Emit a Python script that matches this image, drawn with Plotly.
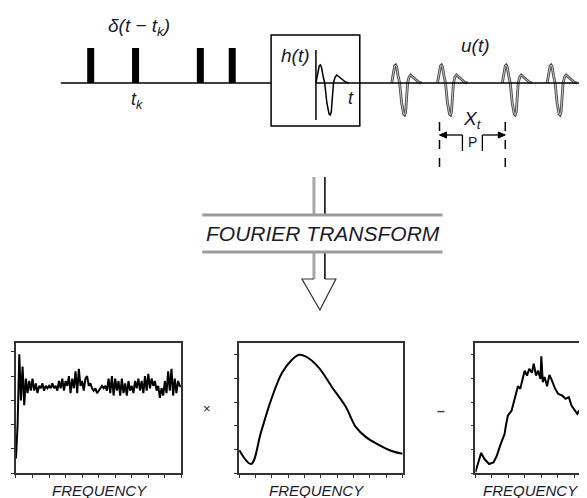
import plotly.graph_objects as go

# ---------------- data ----------------
# impulse train δ(t - t_k): impulse times (diagram time units)
pulse_times = [91, 136, 201, 233]
# wavelet h(t) template (time offset, amplitude; + = up)
wavelet_t = [0, 1.5, 3, 4, 5, 6.5, 8, 10, 12, 13, 14, 16, 17.5, 19, 21, 24, 27, 30]
wavelet_a = [0, 10, 17, 18, 16, 7, 0, -20, -31, -32, -29, 0, 6, 8, 6, 3, 1, 0]
# onset times of the wavelets in u(t)
u_onsets = [393, 439, 504, 549]
h_onset = 317
period_marks = [441, 507]

# spectra (frequency index -> amplitude)
spec_delta = [0.6, 2.0, 4.9, 3.0, 4.4, 2.8, 3.9, 3.3, 3.8, 3.4,
              3.9, 3.4, 3.7, 3.3, 3.6, 3.5, 3.7, 3.4, 3.6, 3.5,
              3.6, 3.5, 3.7, 3.5, 3.6, 3.4, 3.8, 3.5, 3.9, 3.4,
              3.8, 3.6, 4.0, 3.3, 3.9, 3.5, 4.2, 3.3, 4.3, 3.6,
              3.8, 3.4, 3.9, 4.0, 3.6, 3.7, 3.5, 3.4, 3.5, 3.3,
              3.4, 3.5, 3.6, 3.5, 3.6, 3.4, 3.9, 3.3, 4.0, 3.2,
              3.9, 3.4, 3.8, 3.2, 3.9, 3.3, 3.7, 3.2, 3.8, 3.4,
              3.6, 3.3, 3.8, 3.5, 3.9, 3.4, 3.8, 3.3, 4.0, 3.4,
              4.1, 3.5, 3.9, 3.6, 3.8, 3.4, 3.6, 3.1, 3.5, 3.2,
              3.8, 3.3, 4.2, 3.4, 4.3, 3.2, 3.9, 3.3, 3.8, 3.6, 3.57]

spec_h_f = [0, 7.3, 13.4, 19.5, 26.2, 32.3, 36.6, 40.9, 48.8, 56.7,
            65.2, 71.3, 77.4, 85.4, 93.3, 100]
spec_h_a = [0.97, 0.38, 1.74, 3.09, 4.24, 4.79, 5.0, 4.92, 4.45, 3.64,
            2.80, 1.95, 1.53, 1.19, 0.93, 0.81]

spec_u_f = [0, 1.8, 3.5, 5.5, 8.3, 11, 13, 15, 17.7, 18.5, 19.7, 22, 24.2, 25.8,
            27.2, 28.3, 29.9, 31.3, 32.7, 34.3, 35.4, 36.8, 38, 39.5, 40, 40.9,
            42, 43.5, 44.9, 46.5, 48.2, 50.2, 52.6, 54.7, 56.7, 58.3, 59.8,
            61.8, 62.8, 64.4, 66.5]
spec_u_a = [0.03, 0.47, 0.85, 0.59, 0.38, 0.45, 0.73, 1.16, 1.65, 2.0, 2.43, 2.64,
            3.2, 3.67, 3.56, 3.84, 4.33, 4.12, 4.41, 4.24, 4.62, 4.12, 4.33, 3.98,
            4.94, 3.84, 4.06, 3.67, 4.15, 3.91, 3.59, 3.35, 3.28, 3.14, 3.21,
            2.85, 2.71, 2.5, 2.64, 2.36, 2.15]

# ---------------- layout constants ----------------
W, H = 587, 498          # window size
OFF = 8                  # page body margin in which the figure sits
FW, FH = W - OFF, H - OFF
BASE_Y = 83
PULSE_H = 35
ARROW_Y = 135
TXT = "#1a1a2a"
FONT = "Liberation Sans, Arial, sans-serif"


def fx(px):
    return (px - OFF) / FW


def fy(py):
    return 1 - (py - OFF) / FH


fig = go.Figure()

# baseline pieces (through diagram)
fig.add_shape(type="line", x0=61, x1=272, y0=BASE_Y, y1=BASE_Y, xref="x", yref="y",
              line=dict(color="black", width=1.5))
fig.add_shape(type="line", x0=h_onset, x1=W, y0=BASE_Y, y1=BASE_Y, xref="x", yref="y",
              line=dict(color="black", width=1.5))

# impulses
px, py = [], []
for t in pulse_times:
    px += [t, t, None]
    py += [BASE_Y, BASE_Y - PULSE_H, None]
fig.add_trace(go.Scatter(x=px, y=py, mode="lines", line=dict(color="black", width=7),
                         hoverinfo="skip", xaxis="x", yaxis="y"))

# h(t) box
fig.add_shape(type="rect", x0=272, x1=361, y0=35, y1=126, xref="x", yref="y",
              line=dict(color="black", width=1.5))
fig.add_shape(type="line", x0=h_onset, x1=h_onset, y0=50, y1=120, xref="x", yref="y",
              line=dict(color="black", width=1.5))
hx = [h_onset + 1.1 * t for t in wavelet_t]
hy = [BASE_Y - a for a in wavelet_a]
fig.add_trace(go.Scatter(x=hx, y=hy, mode="lines", line=dict(color="black", width=1.5),
                         hoverinfo="skip", xaxis="x", yaxis="y"))

# u(t) wavelets
ux, uy = [], []
for o in u_onsets:
    ux += [o + t for t in wavelet_t] + [None]
    uy += [BASE_Y - a for a in wavelet_a] + [None]
fig.add_trace(go.Scatter(x=ux, y=uy, mode="lines", line=dict(color="#4a4a4a", width=2.8),
                         hoverinfo="skip", xaxis="x", yaxis="y"))
fig.add_trace(go.Scatter(x=ux, y=uy, mode="lines", line=dict(color="#d0d0d0", width=0.9),
                         hoverinfo="skip", xaxis="x", yaxis="y"))

# period markers
for m in period_marks:
    fig.add_shape(type="line", x0=m, x1=m, y0=122, y1=167, xref="x", yref="y",
                  line=dict(color="black", width=1.5, dash="dash"))
for tx in [464, 484]:
    fig.add_shape(type="line", x0=tx, x1=tx, y0=ARROW_Y, y1=151, xref="x", yref="y",
                  line=dict(color="black", width=1.3))
# arrows (shaft + filled head)
a0, a1 = period_marks
fig.add_shape(type="line", x0=a0 + 5, x1=464, y0=ARROW_Y, y1=ARROW_Y, xref="x", yref="y",
              line=dict(color="black", width=1.3))
fig.add_shape(type="line", x0=484, x1=a1 - 5, y0=ARROW_Y, y1=ARROW_Y, xref="x", yref="y",
              line=dict(color="black", width=1.3))
fig.add_shape(type="path", xref="x", yref="y", fillcolor="black",
              line=dict(color="black", width=1),
              path=f"M {a0} {ARROW_Y} L {a0 + 7} {ARROW_Y - 3} L {a0 + 7} {ARROW_Y + 3} Z")
fig.add_shape(type="path", xref="x", yref="y", fillcolor="black",
              line=dict(color="black", width=1),
              path=f"M {a1} {ARROW_Y} L {a1 - 7} {ARROW_Y - 3} L {a1 - 7} {ARROW_Y + 3} Z")

# Fourier transform arrow
for y0, y1 in [(177, 215), (252, 279)]:
    fig.add_shape(type="line", x0=315, x1=315, y0=y0, y1=y1, xref="x", yref="y",
                  line=dict(color="#a8a8a8", width=3))
    fig.add_shape(type="line", x0=326, x1=326, y0=y0, y1=y1, xref="x", yref="y",
                  line=dict(color="black", width=1.5))
for yy in [215, 252]:
    fig.add_shape(type="line", x0=203, x1=444, y0=yy, y1=yy, xref="x", yref="y",
                  line=dict(color="#9c9c9c", width=3))
fig.add_shape(type="path", path="M 315 279 L 303 279 L 321 310 L 337 279 L 326 279",
              xref="x", yref="y", line=dict(color="#333", width=1.2))


# text
def label(x, y, text, size, color=TXT):
    fig.add_annotation(x=x, y=y, xref="x", yref="y", text=text, showarrow=False,
                       font=dict(family=FONT, size=size, color=color),
                       xanchor="center", yanchor="middle")


label(139, 27, "<i>δ(t − t<sub>k</sub>)</i>", 19)
label(137, 100, "<i>t<sub>k</sub></i>", 18)
label(296, 55, "<i>h(t)</i>", 19)
label(352, 98, "<i>t</i>", 18)
label(477, 45, "<i>u(t)</i>", 19)
label(474, 120, "<i>X<sub>t</sub></i>", 19)
label(474, 142, "P", 14)
label(324, 233, "<i>FOURIER TRANSFORM</i>", 21)
label(208, 408, "×", 13)
label(442, 411, "<b>–</b>", 14, "#444")
for cx in [100, 318, 532]:
    label(cx, 490, "<i>FREQUENCY</i>", 15)

# spectra
fig.add_trace(go.Scatter(y=spec_delta, x0=0, dx=1, mode="lines",
                         line=dict(color="black", width=2), xaxis="x2", yaxis="y2",
                         hoverinfo="skip"))
fig.add_trace(go.Scatter(x=spec_h_f, y=spec_h_a, mode="lines", line_shape="spline",
                         line=dict(color="black", width=2), xaxis="x3", yaxis="y3",
                         hoverinfo="skip"))
fig.add_trace(go.Scatter(x=spec_u_f, y=spec_u_a, mode="lines",
                         line=dict(color="black", width=2), xaxis="x4", yaxis="y4",
                         hoverinfo="skip"))

ax_style = dict(showline=True, mirror=True, linecolor="#333", linewidth=1.5,
                ticks="outside", ticklen=3, tickwidth=1, tickcolor="#333",
                showticklabels=False, showgrid=False, zeroline=False, fixedrange=True)
ydom = [fy(473), fy(343)]

fig.update_layout(
    width=FW, height=FH, margin=dict(l=0, r=0, t=0, b=0),
    paper_bgcolor="white", plot_bgcolor="rgba(0,0,0,0)", showlegend=False,
    xaxis=dict(domain=[0, 1], range=[OFF, W], visible=False, fixedrange=True),
    yaxis=dict(domain=[0, 1], range=[H, OFF], visible=False, fixedrange=True),
    xaxis2=dict(domain=[fx(16), fx(182)], range=[0, 100], dtick=10, anchor="y2", **ax_style),
    yaxis2=dict(domain=ydom, range=[0, 5.37], dtick=1, anchor="x2", **ax_style),
    xaxis3=dict(domain=[fx(240), fx(404)], range=[0, 100], dtick=10, anchor="y3", **ax_style),
    yaxis3=dict(domain=ydom, range=[0, 5.5], dtick=1, anchor="x3", **ax_style),
    xaxis4=dict(domain=[fx(477), 1.0], range=[0, 66.5], dtick=10, anchor="y4", **ax_style),
    yaxis4=dict(domain=ydom, range=[0, 5.5], dtick=1, anchor="x4", **ax_style),
)

fig.write_html("out.html")
